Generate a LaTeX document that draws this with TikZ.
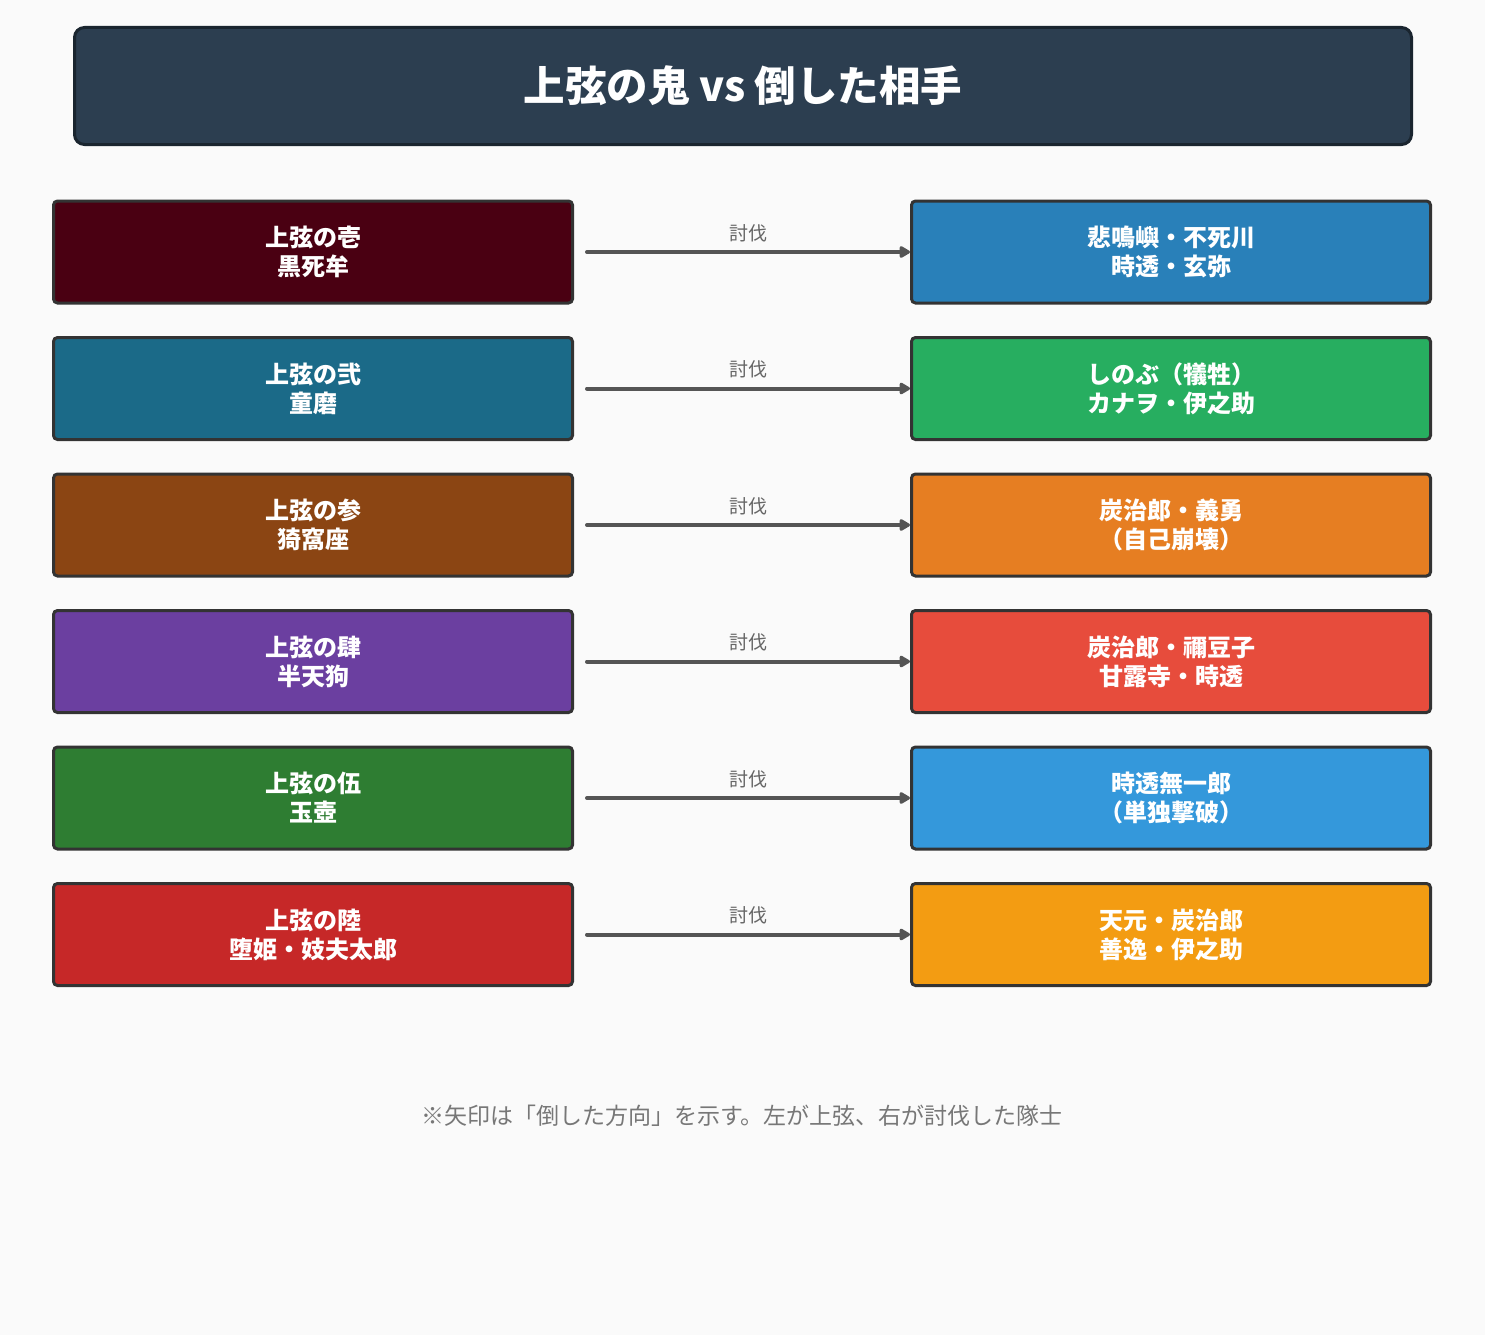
\documentclass[tikz,border=0pt]{standalone}
\usepackage{fontspec}
\setmainfont{Noto Sans CJK JP}
\usetikzlibrary{arrows.meta, positioning}

\definecolor{bgcol}{HTML}{FAFAFA}
\definecolor{titlefill}{HTML}{2C3E50}
\definecolor{titleline}{HTML}{1A252F}
\definecolor{boxline}{HTML}{333333}
\definecolor{arrowgray}{HTML}{555555}
\definecolor{labelgray}{HTML}{666666}
\definecolor{notegray}{HTML}{777777}
\definecolor{onea}{HTML}{4A0012}
\definecolor{oneb}{HTML}{1B6A88}
\definecolor{onec}{HTML}{8B4513}
\definecolor{oned}{HTML}{6B3FA0}
\definecolor{onee}{HTML}{2E7D32}
\definecolor{onef}{HTML}{C62828}
\definecolor{slayera}{HTML}{2980B9}
\definecolor{slayerb}{HTML}{27AE60}
\definecolor{slayerc}{HTML}{E67E22}
\definecolor{slayerd}{HTML}{E74C3C}
\definecolor{slayere}{HTML}{3498DB}
\definecolor{slayerf}{HTML}{F39C12}

\begin{document}
\begin{tikzpicture}[x=1pt,y=-1pt]
\tikzset{
  oni/.style={draw=boxline, line width=3pt, rounded corners=4pt, minimum width=519pt, minimum height=102pt,
    text=white, align=center, font=\fontsize{24}{29}\selectfont\bfseries},
  kill/.style={draw=arrowgray, line width=4pt, line cap=round, -{Triangle[length=12pt,width=13pt,round]}},
  killlabel/.style={text=labelgray, font=\fontsize{19}{22}\selectfont, above=5pt}
}

\fill[bgcol] (0,0) rectangle (1485,1335);
\useasboundingbox (0,0) rectangle (1485,1335);

% title
\node[draw=titleline, fill=titlefill, line width=3pt, rounded corners=10pt, minimum width=1337pt, minimum height=117pt,
  text=white, font=\fontsize{41.5}{50}\selectfont\bfseries] (title) at (743,86) {上弦の鬼 vs 倒した相手};

% upper moons
\node[oni, fill=onea] (l1) at (313,252) {上弦の壱\\黒死牟};
\node[oni, fill=oneb, below=31.5pt of l1] (l2) {上弦の弐\\童磨};
\node[oni, fill=onec, below=31.5pt of l2] (l3) {上弦の参\\猗窩座};
\node[oni, fill=oned, below=31.5pt of l3] (l4) {上弦の肆\\半天狗};
\node[oni, fill=onee, below=31.5pt of l4] (l5) {上弦の伍\\玉壺};
\node[oni, fill=onef, below=31.5pt of l5] (l6) {上弦の陸\\堕姫・妓夫太郎};

% slayers
\node[oni, fill=slayera, right=336pt of l1] (r1) {悲鳴嶼・不死川\\時透・玄弥};
\node[oni, fill=slayerb, right=336pt of l2] (r2) {しのぶ（犠牲）\\カナヲ・伊之助};
\node[oni, fill=slayerc, right=336pt of l3] (r3) {炭治郎・義勇\\（自己崩壊）};
\node[oni, fill=slayerd, right=336pt of l4] (r4) {炭治郎・禰豆子\\甘露寺・時透};
\node[oni, fill=slayere, right=336pt of l5] (r5) {時透無一郎\\（単独撃破）};
\node[oni, fill=slayerf, right=336pt of l6] (r6) {天元・炭治郎\\善逸・伊之助};

\draw[kill] ([xshift=13pt]l1.east) -- node[killlabel] {討伐} (r1.west);
\draw[kill] ([xshift=13pt]l2.east) -- node[killlabel] {討伐} (r2.west);
\draw[kill] ([xshift=13pt]l3.east) -- node[killlabel] {討伐} (r3.west);
\draw[kill] ([xshift=13pt]l4.east) -- node[killlabel] {討伐} (r4.west);
\draw[kill] ([xshift=13pt]l5.east) -- node[killlabel] {討伐} (r5.west);
\draw[kill] ([xshift=13pt]l6.east) -- node[killlabel] {討伐} (r6.west);

\node[text=notegray, font=\fontsize{23}{26}\selectfont] (note) at (742,1116) {※矢印は「倒した方向」を示す。左が上弦、右が討伐した隊士};
\end{tikzpicture}
\end{document}
